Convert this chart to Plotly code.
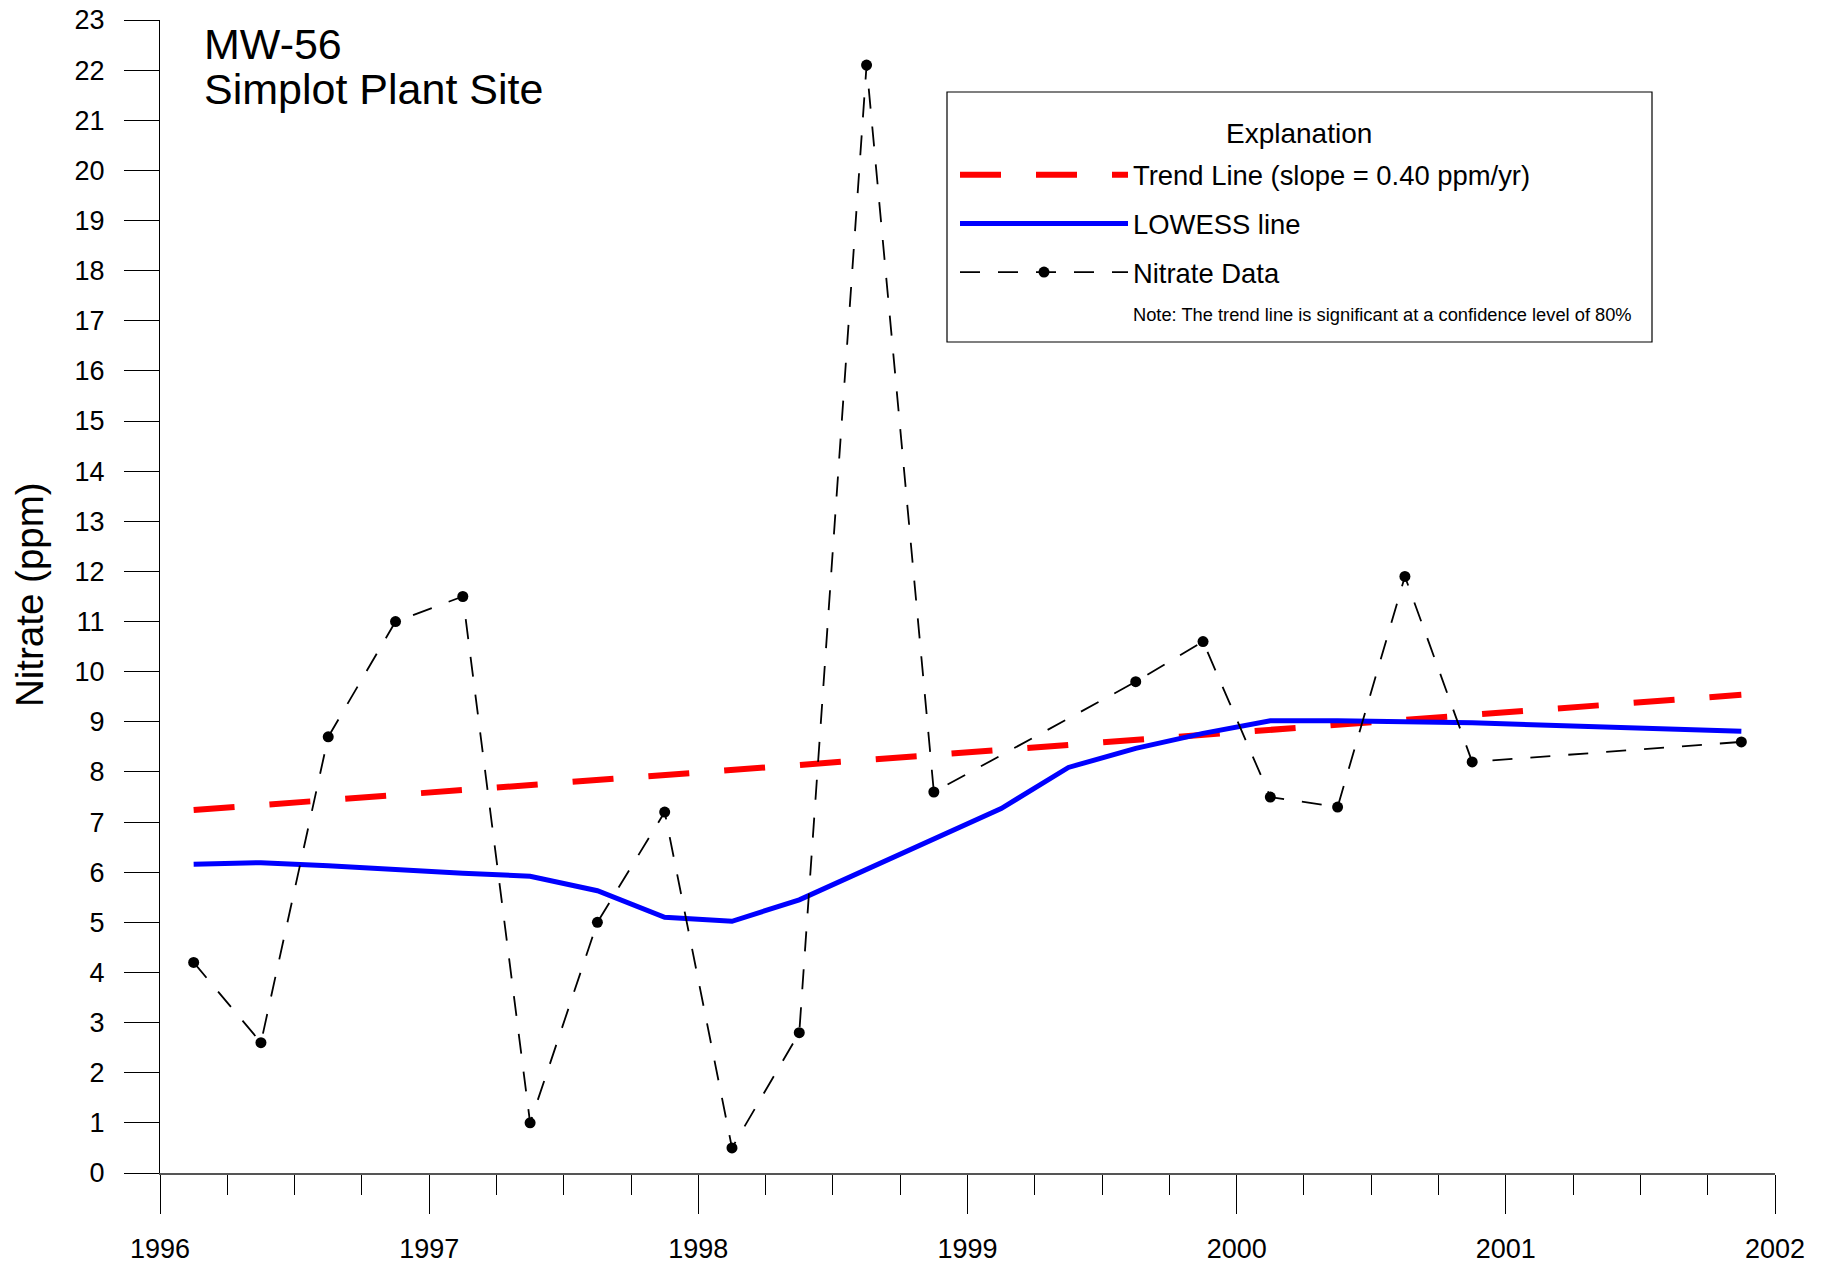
import plotly.graph_objects as go

# ---- data ----
data_years = [1996.125, 1996.375, 1996.625, 1996.875, 1997.125, 1997.375, 1997.625, 1997.875,
              1998.125, 1998.375, 1998.625, 1998.875, 1999.625, 1999.875, 2000.125, 2000.375,
              2000.625, 2000.875, 2001.875]
nitrate = [4.2, 2.6, 8.7, 11.0, 11.5, 1.0, 5.0, 7.2,
           0.5, 2.8, 22.1, 7.6, 9.8, 10.6, 7.5, 7.3,
           11.9, 8.2, 8.6]

lowess_years = [1996.125, 1996.375, 1996.625, 1996.875, 1997.125, 1997.375, 1997.625, 1997.875,
                1998.125, 1998.375, 1998.625, 1998.875, 1999.125, 1999.375, 1999.625, 1999.875,
                2000.125, 2000.375, 2000.625, 2000.875, 2001.875]
lowess = [6.16, 6.19, 6.13, 6.05, 5.98, 5.92, 5.63, 5.10,
          5.02, 5.45, 6.05, 6.65, 7.27, 8.09, 8.47, 8.77,
          9.02, 9.02, 9.00, 8.98, 8.81]

trend_years = [1996.125, 2001.875]
trend = [7.24, 9.54]

x_ticks = [1996, 1997, 1998, 1999, 2000, 2001, 2002]
x_ticklabels = ["1996", "1997", "1998", "1999", "2000", "2001", "2002"]
y_ticks = list(range(0, 24))

SANS = "Liberation Sans, Arial, sans-serif"

# plot area in pixels (for placing the text/legend box in paper coords)
PL, PR, PT, PB = 160, 1775, 20, 1173
def px(x):
    return (x - PL) / (PR - PL)
def py(y):
    return (PB - y) / (PB - PT)

fig = go.Figure()
fig.add_trace(go.Scatter(
    x=trend_years, y=trend, mode="lines",
    name="Trend Line (slope = 0.40 ppm/yr)", legendgroup="g1",
    line=dict(color="#ff0000", width=6, dash="41px,35px"),
))
fig.add_trace(go.Scatter(
    x=lowess_years, y=lowess, mode="lines",
    name="LOWESS line", legendgroup="g2",
    line=dict(color="#0000ff", width=5),
))
fig.add_trace(go.Scatter(
    x=data_years, y=nitrate, mode="lines+markers",
    name="Nitrate Data", legendgroup="g3",
    line=dict(color="#000000", width=1.8, dash="20px,18px"),
    marker=dict(color="#000000", size=11, symbol="circle"),
))
fig.add_trace(go.Scatter(
    x=[None], y=[None], mode="lines", legendgroup="g3",
    name="<span style='font-size:18.3px'>Note: The trend line is significant at a confidence level of 80%</span>",
    line=dict(color="rgba(0,0,0,0)", width=0),
))

fig.update_layout(
    width=1835, height=1267,
    margin=dict(l=160, r=60, t=20, b=94),
    paper_bgcolor="white", plot_bgcolor="white",
    showlegend=True,
    legend=dict(
        x=px(947), y=py(150.5),
        xanchor="left", yanchor="top",
        borderwidth=0,
        bgcolor="rgba(0,0,0,0)",
        font=dict(family=SANS, size=27.4, color="black"),
        itemwidth=168,
        indentation=8,
        tracegroupgap=10,
    ),
    shapes=[
        dict(type="rect", xref="paper", yref="paper",
             x0=px(947), x1=px(1652), y0=py(342), y1=py(92),
             line=dict(color="black", width=1.2), fillcolor="white", layer="above"),
    ],
    xaxis=dict(
        range=[1996, 2002],
        tickvals=x_ticks, ticktext=x_ticklabels,
        ticks="outside", ticklen=39, tickwidth=1, tickcolor="black",
        showgrid=False, zeroline=False, automargin=False,
        showline=True, linecolor="#555555", linewidth=2,
        tickfont=dict(family=SANS, size=27, color="black"),
        ticklabelstandoff=12,
        minor=dict(dtick=0.25, tick0=1996, ticks="outside", ticklen=20,
                   tickwidth=1, tickcolor="black", showgrid=False),
    ),
    yaxis=dict(
        range=[0, 23],
        tickvals=y_ticks,
        ticks="outside", ticklen=35, tickwidth=1, tickcolor="black",
        showgrid=False, zeroline=False, automargin=False,
        showline=True, linecolor="black", linewidth=1,
        tickfont=dict(family=SANS, size=27, color="black"),
        ticklabelstandoff=14,
    ),
    annotations=[
        dict(text="MW-56", xref="paper", yref="paper",
             x=px(202), y=py(44),
             xanchor="left", yanchor="middle", showarrow=False,
             font=dict(family=SANS, size=43, color="black")),
        dict(text="Simplot Plant Site", xref="paper", yref="paper",
             x=px(202), y=py(89),
             xanchor="left", yanchor="middle", showarrow=False,
             font=dict(family=SANS, size=43, color="black")),
        dict(text="Nitrate (ppm)", xref="paper", yref="paper",
             x=px(29), y=py(595),
             xanchor="center", yanchor="middle", textangle=-90, showarrow=False,
             font=dict(family=SANS, size=38.5, color="black")),
        dict(text="Explanation", xref="paper", yref="paper",
             x=px(1299), y=py(133),
             xanchor="center", yanchor="middle", showarrow=False,
             font=dict(family=SANS, size=28, color="black")),
    ],
)

fig.write_html("out.html", post_script="document.body.style.margin='0';",
               config={"displayModeBar": False})
